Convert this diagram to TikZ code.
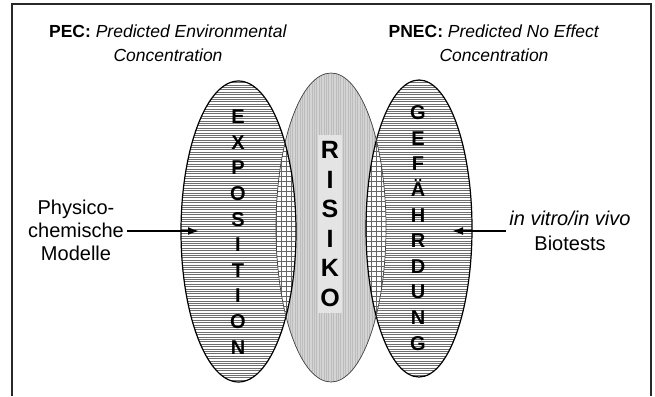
\documentclass[tikz,border=0pt]{standalone}
\usepackage{fontspec}
\setmainfont{Liberation Sans}
\usetikzlibrary{arrows.meta}
\definecolor{frameline}{RGB}{40,40,40}
\definecolor{stripe}{RGB}{110,110,110}
\definecolor{risikogray}{RGB}{212,212,212}
\definecolor{risikostripe}{RGB}{188,188,188}
\definecolor{risikobox}{RGB}{228,228,228}

\begin{document}
\begin{tikzpicture}[x=1pt, y=-1pt,
    every node/.style={font=\fontsize{20}{23}\selectfont},
    letters/.style={align=center, font=\fontsize{20}{25.6}\selectfont\bfseries},
    pointer/.style={-{Latex[length=11pt,width=8pt]}, line width=1.8pt},
    hline/.style={stripe, line width=0.5pt},
    vline/.style={risikostripe, line width=0.8pt},
    gridline/.style={black!60, line width=0.5pt},
    outline/.style={black, line width=1.2pt}]
  \useasboundingbox (0,0) rectangle (655,396);
  \def\exposhape{(238.5,231.5) ellipse [x radius=57.5, y radius=150.5]}
  \def\risikoshape{(331,227.5) ellipse [x radius=55, y radius=154.5]}
  \def\gefshape{(419,228.5) ellipse [x radius=53, y radius=148.5]}

  % outer frame, open at the bottom
  \draw[frameline, line width=1.5pt] (12,396) -- (12,4) -- (651,4) -- (651,396);

  % striped ellipses
  \begin{scope}
    \clip \exposhape;
    \fill[white] (178,78) rectangle (298,385);
    \foreach \y in {80,82.4,...,384} \draw[hline] (178,\y) -- (298,\y);
  \end{scope}
  \begin{scope}
    \clip \gefshape;
    \fill[white] (362,78) rectangle (475,380);
    \foreach \y in {80,82.4,...,380} \draw[hline] (362,\y) -- (475,\y);
  \end{scope}
  \begin{scope}
    \clip \risikoshape;
    \fill[risikogray] (274,70) rectangle (388,385);
    \foreach \x in {276,278.4,...,387} \draw[vline] (\x,70) -- (\x,385);
  \end{scope}

  % overlaps
  \foreach \side in {\exposhape, \gefshape}{
    \begin{scope}
      \clip \risikoshape;
      \clip \side;
      \fill[white] (270,100) rectangle (395,360);
      \foreach \x in {271,276,...,395} \draw[gridline] (\x,100) -- (\x,360);
      \foreach \y in {101,106,...,360} \draw[gridline] (270,\y) -- (395,\y);
    \end{scope}
  }

  \draw[outline] \exposhape;
  \draw[outline] \gefshape;
  \draw[black!75, line width=0.7pt] \risikoshape;

  \node[letters] (expo) at (238,232) {E\\X\\P\\O\\S\\I\\T\\I\\O\\N};
  \node[letters] (gef) at (418,228) {G\\E\\F\\Ä\\H\\R\\D\\U\\N\\G};
  \node[fill=risikobox, inner xsep=2pt, inner ysep=6pt, minimum width=24pt,
    letters, font=\fontsize{25}{29.6}\selectfont\bfseries] (risiko) at (330,224)
    {R\\I\\S\\I\\K\\O};

  \node[align=center, font=\fontsize{17.5}{24}\selectfont] (pec) at (168,43)
    {\textbf{PEC:} \textit{Predicted Environmental}\\\textit{Concentration}};
  \node[align=center, font=\fontsize{17.5}{24}\selectfont] (pnec) at (494,43)
    {\textbf{PNEC:} \textit{Predicted No Effect}\\\textit{Concentration}};

  \node[align=center] (physchem) at (76,230) {Physico-\\chemische\\Modelle};
  \node[align=center, font=\fontsize{20}{25}\selectfont] (biotests) at (570,230.5)
    {\textit{in vitro/in vivo}\\Biotests};
  \coordinate (expoin) at (199,231);
  \coordinate (gefin) at (452,231);
  \draw[pointer] (physchem.east |- expoin) -- (expoin);
  \draw[pointer] (biotests.west |- gefin) -- (gefin);
\end{tikzpicture}
\end{document}
